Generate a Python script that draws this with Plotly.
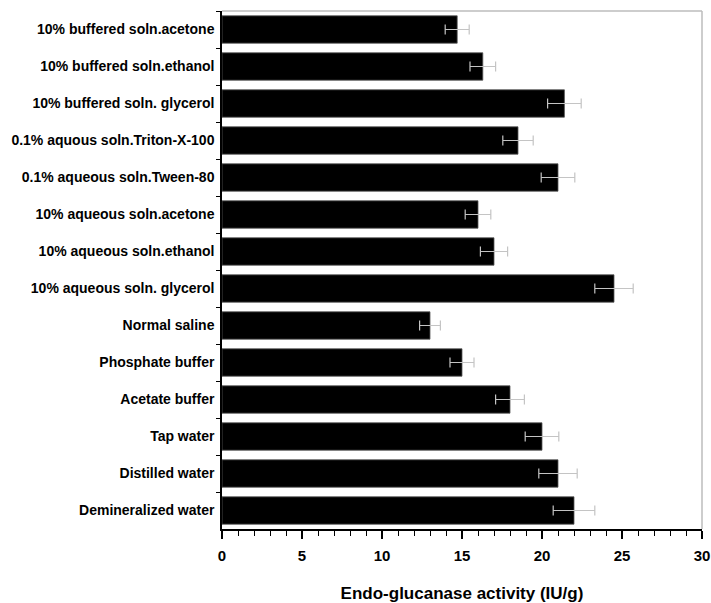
import plotly.graph_objects as go

categories = [
    "10% buffered soln.acetone",
    "10% buffered soln.ethanol",
    "10% buffered soln. glycerol",
    "0.1% aquous soln.Triton-X-100",
    "0.1% aqueous soln.Tween-80",
    "10% aqueous soln.acetone",
    "10% aqueous soln.ethanol",
    "10% aqueous soln. glycerol",
    "Normal saline",
    "Phosphate buffer",
    "Acetate buffer",
    "Tap water",
    "Distilled water",
    "Demineralized water",
]
activity = [14.7, 16.3, 21.4, 18.5, 21.0, 16.0, 17.0, 24.5, 13.0, 15.0, 18.0, 20.0, 21.0, 22.0]
errors = [0.75, 0.8, 1.05, 0.95, 1.05, 0.8, 0.85, 1.2, 0.65, 0.75, 0.9, 1.05, 1.2, 1.3]
x_ticks = [0, 5, 10, 15, 20, 25, 30]

FONT = "Liberation Sans, Arial, sans-serif"

fig = go.Figure(
    go.Bar(
        x=activity,
        y=categories,
        orientation="h",
        marker=dict(color="#000000", line=dict(color="#555555", width=0.8)),
        error_x=dict(type="data", array=errors, color="#c4c4c4", thickness=1.2, width=5),
        width=0.74,
    )
)

fig.update_layout(
    width=711,
    height=603,
    margin=dict(l=222, r=9, t=11, b=74),
    paper_bgcolor="white",
    plot_bgcolor="white",
    showlegend=False,
    font=dict(family=FONT, color="black"),
)

fig.update_xaxes(
    range=[0, 30.0001],
    tickvals=x_ticks,
    ticktext=[str(v) for v in x_ticks],
    ticks="outside",
    ticklen=8,
    tickwidth=1.5,
    tickcolor="black",
    minor=dict(dtick=1, ticks="outside", ticklen=5, tickwidth=1.2, tickcolor="black", showgrid=False),
    showline=True,
    linecolor="black",
    linewidth=1.5,
    showgrid=False,
    zeroline=False,
    automargin=False,
    ticklabeloverflow="allow",
    ticklabelstandoff=4,
    tickfont=dict(family=FONT, size=15, color="black", weight="bold"),
    title=dict(text="<b>Endo-glucanase activity (IU/g)</b>", font=dict(family=FONT, size=17, color="black"), standoff=24),
)

fig.update_yaxes(
    autorange="reversed",
    ticks="outside",
    tickson="boundaries",
    ticklen=4,
    tickwidth=1.2,
    tickcolor="black",
    showline=True,
    linecolor="black",
    linewidth=1.5,
    showgrid=False,
    automargin=False,
    ticklabelstandoff=3,
    tickfont=dict(family=FONT, size=14, color="black", weight="bold"),
)

# light grey frame on top and right
fig.add_shape(type="line", xref="x domain", yref="y domain", x0=0, x1=1, y0=1, y1=1,
              line=dict(color="#bdbdbd", width=1.5))
fig.add_shape(type="line", xref="x domain", yref="y domain", x0=1, x1=1, y0=0, y1=1,
              line=dict(color="#bdbdbd", width=1.5))

fig.write_html(
    "out.html",
    config={"displayModeBar": False},
    post_script="document.body.style.margin='0';document.body.style.overflow='hidden';",
)
